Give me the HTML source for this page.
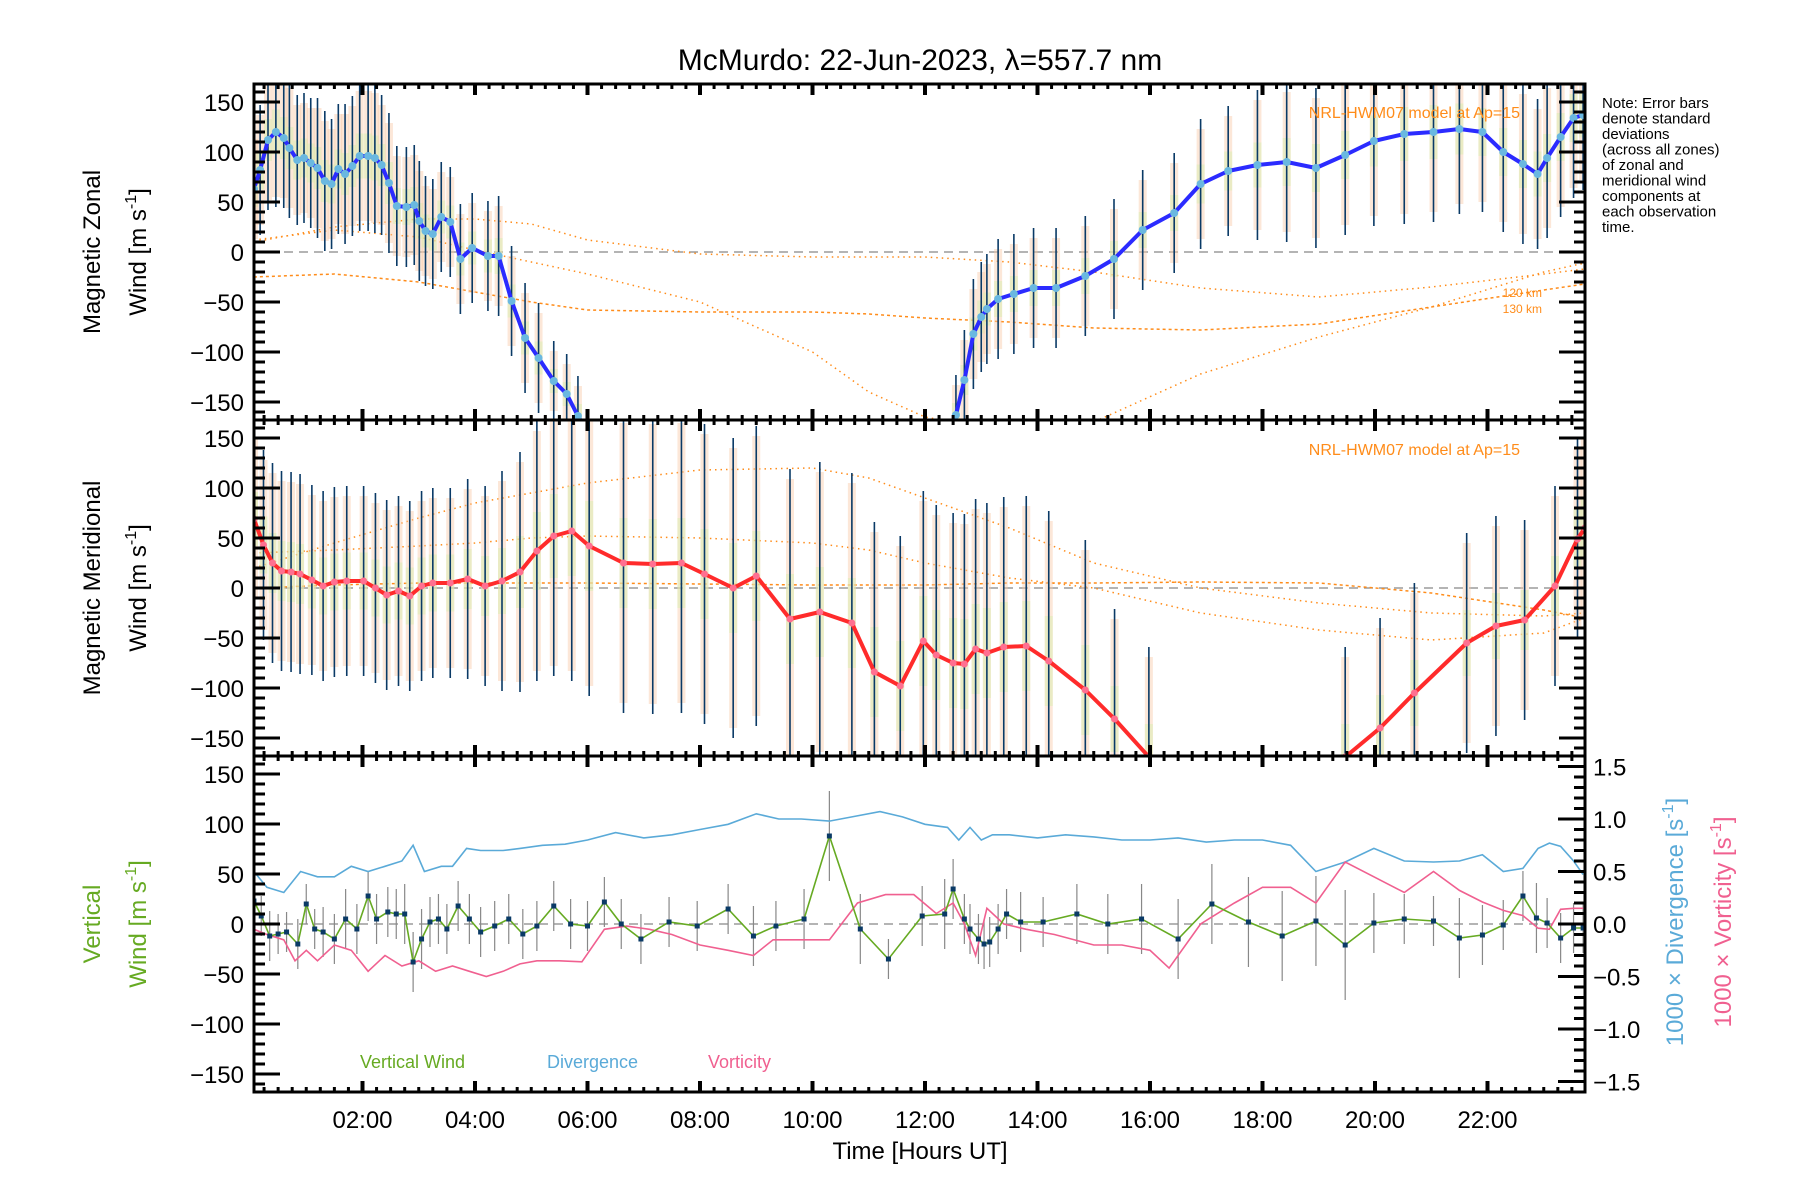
<!DOCTYPE html>
<html><head><meta charset="utf-8">
<style>
html,body{margin:0;padding:0;background:#fff;}
svg{display:block;font-family:"Liberation Sans",sans-serif;}
</style></head>
<body>
<svg id="chart" width="1800" height="1200" viewBox="0 0 1800 1200">
<text x="920" y="70" font-size="30" text-anchor="middle">McMurdo: 22-Jun-2023, λ=557.7 nm</text>
<g id="layer"></g>
<text x="1612" y="108" font-size="15"><tspan x="1602" dy="0">Note: Error bars</tspan><tspan x="1602" dy="15.5">denote standard</tspan><tspan x="1602" dy="15.5">deviations</tspan><tspan x="1602" dy="15.5">(across all zones)</tspan><tspan x="1602" dy="15.5">of zonal and</tspan><tspan x="1602" dy="15.5">meridional wind</tspan><tspan x="1602" dy="15.5">components at</tspan><tspan x="1602" dy="15.5">each observation</tspan><tspan x="1602" dy="15.5">time.</tspan></text>
<g transform="translate(100,252) rotate(-90)"><text font-size="24" text-anchor="middle">Magnetic Zonal</text><text y="46" font-size="24" text-anchor="middle">Wind [m s<tspan dy="-10" font-size="16">-1</tspan><tspan dy="10">]</tspan></text></g>
<g transform="translate(100,588) rotate(-90)"><text font-size="24" text-anchor="middle">Magnetic Meridional</text><text y="46" font-size="24" text-anchor="middle">Wind [m s<tspan dy="-10" font-size="16">-1</tspan><tspan dy="10">]</tspan></text></g>
<g transform="translate(100,924) rotate(-90)" fill="#66aa22"><text font-size="24" text-anchor="middle">Vertical</text><text y="46" font-size="24" text-anchor="middle">Wind [m s<tspan dy="-10" font-size="16">-1</tspan><tspan dy="10">]</tspan></text></g>
<g transform="translate(1683,922) rotate(-90)"><text font-size="24" text-anchor="middle" fill="#5aaad8">1000 × Divergence [s<tspan dy="-10" font-size="16">-1</tspan><tspan dy="10">]</tspan></text></g>
<g transform="translate(1731,922) rotate(-90)"><text font-size="24" text-anchor="middle" fill="#f06090">1000 × Vorticity [s<tspan dy="-10" font-size="16">-1</tspan><tspan dy="10">]</tspan></text></g>
<text x="920" y="1159" font-size="24" text-anchor="middle">Time [Hours UT]</text>
<text x="360" y="1068" font-size="18" fill="#66aa22">Vertical Wind</text>
<text x="547" y="1068" font-size="18" fill="#5aaad8">Divergence</text>
<text x="708" y="1068" font-size="18" fill="#f06090">Vorticity</text>
<text x="1520" y="118" font-size="16" fill="#ff8c1a" text-anchor="end">NRL-HWM07 model at Ap=15</text>
<text x="1520" y="455" font-size="16" fill="#ff8c1a" text-anchor="end">NRL-HWM07 model at Ap=15</text>
<text x="1542" y="297" font-size="12" fill="#ff8c1a" text-anchor="end">120 km</text>
<text x="1542" y="313" font-size="12" fill="#ff8c1a" text-anchor="end">130 km</text>
</svg>
<script>
// ---- data ----
const zonalHours=[0.07,0.18,0.32,0.46,0.6,0.7,0.84,0.96,1.08,1.2,1.33,1.45,1.57,1.69,1.82,1.95,2.1,2.22,2.34,2.47,2.61,2.78,2.92,3.01,3.12,3.25,3.4,3.56,3.74,3.95,4.23,4.42,4.65,4.89,5.13,5.4,5.63,5.83,6.2,12.3,12.55,12.7,12.86,13.0,13.1,13.3,13.58,13.93,14.33,14.85,15.36,15.87,16.43,16.9,17.39,17.91,18.43,18.95,19.47,19.98,20.52,21.04,21.5,21.91,22.28,22.63,22.89,23.06,23.3,23.53,23.7];
const zonalWind=[63,82,112,120,114,104,92,94,89,84,71,68,83,78,86,96,96,94,87,69,46,45,47,31,21,18,35,30,-7,4,-4,-4,-49,-86,-106,-129,-142,-164,-200,-200,-163,-128,-82,-65,-57,-47,-42,-36,-36,-24,-7,22,39,68,81,87,90,84,97,111,118,120,123,120,100,88,78,94,115,134,137];
const zonalErr=[60,65,70,75,70,70,65,65,65,70,70,65,65,70,70,75,75,75,70,70,60,60,60,60,55,55,55,55,55,55,55,60,55,55,55,40,40,40,0,0,40,50,55,55,55,60,60,60,60,60,60,60,60,65,65,75,80,80,80,85,90,90,85,80,80,80,75,80,80,80,75];
const merHours=[0.07,0.24,0.4,0.56,0.73,0.89,1.1,1.3,1.5,1.72,2.02,2.23,2.43,2.64,2.84,3.05,3.25,3.56,3.87,4.18,4.48,4.8,5.1,5.4,5.72,6.03,6.64,7.16,7.67,8.08,8.59,9.0,9.6,10.13,10.7,11.1,11.56,11.97,12.2,12.5,12.7,12.9,13.1,13.4,13.8,14.2,14.85,15.37,15.98,17.5,19.47,20.09,20.7,21.63,22.15,22.66,23.2,23.6,23.73];
const merWind=[69,43,25,17,16,14,8,2,6,7,7,0,-7,-3,-8,2,5,5,9,2,7,16,37,52,57,42,25,24,25,14,0,12,-31,-24,-35,-84,-98,-53,-67,-75,-76,-61,-65,-59,-58,-73,-102,-131,-169,-230,-169,-140,-105,-55,-38,-32,2,49,60];
const merErr=[90,95,100,100,100,100,95,95,95,95,95,95,95,95,95,95,95,95,100,100,110,120,130,140,150,150,150,150,150,150,150,150,150,150,150,150,150,150,150,150,150,150,150,150,150,150,150,110,110,0,110,110,110,110,110,100,100,100,100];
const vertHours=[0.07,0.2,0.35,0.5,0.65,0.85,1.0,1.15,1.3,1.5,1.7,1.9,2.1,2.25,2.45,2.6,2.75,2.9,3.05,3.2,3.35,3.5,3.7,3.9,4.1,4.35,4.6,4.85,5.1,5.4,5.7,6.0,6.3,6.6,6.95,7.45,7.95,8.5,8.95,9.35,9.85,10.3,10.85,11.35,11.95,12.35,12.5,12.7,12.8,12.95,13.05,13.15,13.3,13.45,13.7,14.1,14.7,15.25,15.85,16.5,17.1,17.75,18.35,18.95,19.47,19.98,20.52,21.04,21.5,21.91,22.28,22.63,22.87,23.06,23.3,23.53,23.7];
const vertWind=[23,8,-12,-10,-8,-20,20,-5,-8,-15,5,-5,28,5,12,10,10,-38,-15,2,5,-5,18,5,-8,-2,5,-10,-2,18,0,-2,22,0,-15,2,-2,15,-12,-2,5,88,-5,-35,8,10,35,5,-5,-15,-20,-18,-5,10,2,2,10,0,5,-15,20,2,-12,3,-21,1,5,3,-14,-11,-1,28,6,1,-14,-4,-4];
const vertErr=[25,20,25,20,20,25,20,20,25,25,30,25,25,25,25,25,30,30,30,25,25,25,25,25,25,25,25,25,25,25,25,25,25,25,25,25,25,25,30,25,30,45,35,20,30,35,30,25,25,25,25,25,25,25,30,25,30,30,35,40,40,45,45,45,55,30,25,25,40,30,25,25,35,25,25,25,25];
const divHours=[0.07,0.3,0.6,0.9,1.2,1.5,1.8,2.1,2.4,2.7,2.9,3.1,3.4,3.6,3.85,4.1,4.5,4.8,5.2,5.6,6.0,6.5,7.0,7.5,8.0,8.5,9.0,9.4,9.8,10.3,10.7,11.2,11.6,12.0,12.4,12.6,12.8,13.0,13.2,13.5,14.0,14.5,15.0,15.5,16.0,16.5,17.0,17.5,18.0,18.5,18.95,19.47,19.98,20.52,21.04,21.5,21.91,22.28,22.63,22.9,23.1,23.3,23.53,23.7];
const divValue=[0.5,0.35,0.3,0.5,0.45,0.45,0.55,0.5,0.55,0.6,0.75,0.5,0.55,0.55,0.72,0.7,0.7,0.72,0.75,0.76,0.8,0.87,0.82,0.85,0.9,0.95,1.05,1.0,1.0,0.98,1.02,1.07,1.02,0.95,0.92,0.8,0.92,0.8,0.85,0.85,0.82,0.85,0.83,0.8,0.8,0.82,0.78,0.8,0.8,0.75,0.5,0.59,0.72,0.6,0.59,0.6,0.66,0.5,0.53,0.72,0.77,0.74,0.6,0.47];
const vorHours=[0.07,0.3,0.6,0.8,1.0,1.2,1.5,1.8,2.1,2.4,2.7,3.0,3.3,3.6,3.9,4.2,4.5,4.8,5.1,5.5,5.9,6.3,6.7,7.1,7.5,8.0,8.5,8.95,9.3,9.8,10.3,10.8,11.3,11.8,12.2,12.5,12.7,12.9,13.1,13.4,13.8,14.3,15.0,15.5,16.0,16.34,16.9,17.5,18.0,18.5,18.95,19.47,19.98,20.52,21.04,21.5,21.91,22.28,22.63,22.9,23.1,23.3,23.53,23.7];
const vorValue=[-0.05,-0.1,-0.15,-0.35,-0.25,-0.35,-0.2,-0.25,-0.45,-0.3,-0.4,-0.35,-0.45,-0.4,-0.45,-0.5,-0.45,-0.38,-0.35,-0.35,-0.36,-0.05,-0.02,-0.05,-0.1,-0.2,-0.25,-0.3,-0.15,-0.15,-0.15,0.2,0.28,0.28,0.1,0.2,0.0,-0.3,0.15,0.0,-0.05,-0.1,-0.2,-0.2,-0.25,-0.42,0.0,0.2,0.35,0.35,0.2,0.59,0.45,0.3,0.5,0.32,0.21,0.13,0.08,-0.04,-0.05,0.14,0.15,0.15];
const modelHours=[0.07,1.5,3,4,5,6,8,10,11,12,13.5,15,16.9,19,21,23,23.73];
const zonalModelA=[10,25,33,33,28,12,-2,-5,-5,-5,-10,-20,-36,-45,-35,-22,-17];
const zonalModelB=[12,22,15,2,-10,-22,-50,-100,-140,-165,-180,-170,-122,-85,-55,-20,-11];
const zonalModelC=[-25,-22,-30,-40,-50,-58,-60,-60,-62,-66,-70,-76,-78,-72,-55,-38,-32];
const merModelA=[20,45,70,85,95,105,118,120,110,90,60,25,0,-15,-25,-28,-25];
const merModelB=[35,38,42,45,50,52,50,45,38,25,10,0,-25,-42,-52,-45,-30];
const merModelC=[0,3,5,5,5,5,4,3,3,3,5,5,6,5,-5,-22,-30];
const yTicks=[150,100,50,0,-50,-100,-150];
const rTicks=[1.5,1.0,0.5,0.0,-0.5,-1.0,-1.5];
const rTickLabels=["1.5","1.0","0.5","0.0","\u22120.5","\u22121.0","\u22121.5"];
const xTickHours=[2,4,6,8,10,12,14,16,18,20,22];
const xTickLabels=["02:00","04:00","06:00","08:00","10:00","12:00","14:00","16:00","18:00","20:00","22:00"];

// ---- layout ----
const NS="http://www.w3.org/2000/svg";
const L=254,R=1585,X0=250,PXH=56.25;
const tops=[84,420,756],PH=336;
const xs=h=>X0+h*PXH;
const yv=(p,v)=>tops[p]+PH/2-v;
const yr=v=>tops[2]+PH/2-v*105;
const layer=document.getElementById('layer');
function mk(tag,attrs,parent){const e=document.createElementNS(NS,tag);for(const k in attrs)e.setAttribute(k,attrs[k]);(parent||layer).appendChild(e);return e;}
const defs=mk('defs',{});
for(let p=0;p<3;p++){const c=mk('clipPath',{id:'clip'+p},defs);mk('rect',{x:L,y:tops[p],width:R-L,height:PH},c);}
function poly(p,hours,vals,fy,attrs,name){
  const pts=hours.map((h,i)=>xs(h).toFixed(1)+','+fy(vals[i]).toFixed(1)).join(' ');
  const e=mk('polyline',Object.assign({points:pts,fill:'none','clip-path':'url(#clip'+p+')'},attrs));
  
  
  return e;
}
function errBars(p,hours,vals,errs,barColor,name){
  const g=mk('g',{'clip-path':'url(#clip'+p+')'});
  
  
  hours.forEach((h,i)=>{
    if(!errs[i])return;
    const x=xs(h),y1=yv(p,vals[i]+errs[i]),y2=yv(p,vals[i]-errs[i]);
    if(p<2){
      const b=mk('rect',{x:x-4,y:y1+10,width:8,height:Math.max(0,y2-y1-20),fill:'#f9c9a8',opacity:0.45},g);
      
      
      const b2=mk('rect',{x:x-4,y:y1+(y2-y1)*0.35,width:8,height:(y2-y1)*0.3,fill:'#d8f0b0',opacity:0.5},g);
      
      
    }
    const l=mk('line',{x1:x,x2:x,y1:y1,y2:y2,stroke:barColor,'stroke-width':p<2?1.6:1.2},g);
    
    
  });
}
for(let p=0;p<3;p++){const z=mk('line',{x1:L,x2:R,y1:yv(p,0),y2:yv(p,0),stroke:'#888','stroke-width':1.3,'stroke-dasharray':'9,6'});}
poly(0,modelHours,zonalModelA,v=>yv(0,v),{stroke:'#ff8c1a','stroke-width':1.5,'stroke-dasharray':'1.5,4'},'zonal-model-a');
poly(0,modelHours,zonalModelB,v=>yv(0,v),{stroke:'#ff8c1a','stroke-width':1.5,'stroke-dasharray':'1.5,4'},'zonal-model-b');
poly(0,modelHours,zonalModelC,v=>yv(0,v),{stroke:'#ff8c1a','stroke-width':1.5,'stroke-dasharray':'3,3'},'zonal-model-c');
poly(1,modelHours,merModelA,v=>yv(1,v),{stroke:'#ff8c1a','stroke-width':1.5,'stroke-dasharray':'1.5,4'},'meridional-model-a');
poly(1,modelHours,merModelB,v=>yv(1,v),{stroke:'#ff8c1a','stroke-width':1.5,'stroke-dasharray':'1.5,4'},'meridional-model-b');
poly(1,modelHours,merModelC,v=>yv(1,v),{stroke:'#ff8c1a','stroke-width':1.5,'stroke-dasharray':'3,3'},'meridional-model-c');
errBars(0,zonalHours,zonalWind,zonalErr,'#0a3a66','zonal-error-bars');
errBars(1,merHours,merWind,merErr,'#0a3a66','meridional-error-bars');
errBars(2,vertHours,vertWind,vertErr,'#888','vertical-error-bars');
poly(0,zonalHours,zonalWind,v=>yv(0,v),{stroke:'#2b2bff','stroke-width':4,'stroke-linejoin':'round'},'zonal-wind-line');
poly(1,merHours,merWind,v=>yv(1,v),{stroke:'#ff2b2b','stroke-width':4,'stroke-linejoin':'round'},'meridional-wind-line');
poly(2,divHours,divValue,yr,{stroke:'#5aaad8','stroke-width':1.6},'divergence-line');
poly(2,vorHours,vorValue,yr,{stroke:'#f06090','stroke-width':1.6},'vorticity-line');
poly(2,vertHours,vertWind,v=>yv(2,v),{stroke:'#66aa22','stroke-width':1.6},'vertical-wind-line');
function dots(p,hours,vals,fy,fill,r,name,sq){
  const g=mk('g',{'clip-path':'url(#clip'+p+')'});
  
  
  hours.forEach((h,i)=>{const x=xs(h),y=fy(vals[i]);
    const d=sq?mk('rect',{x:x-2.5,y:y-2.5,width:5,height:5,fill:fill},g):mk('circle',{cx:x,cy:y,r:r,fill:fill},g);
    
    });
}
dots(0,zonalHours,zonalWind,v=>yv(0,v),'#6ab8e0',4,'zonal-points');
dots(1,merHours,merWind,v=>yv(1,v),'#ff7090',3.5,'meridional-points');
dots(2,vertHours,vertWind,v=>yv(2,v),'#0a3a66',0,'vertical-points',true);
for(let p=0;p<3;p++){
  const t=tops[p],b=t+PH;
  const g=mk('g',{});
  
  
  for(let v=-160;v<=160;v+=10){const y=yv(p,v);const len=(v%50===0)?26:11;
    mk('line',{x1:L,x2:L+len,y1:y,y2:y,stroke:'#000','stroke-width':3},g);
    if(p<2)mk('line',{x1:R-len,x2:R,y1:y,y2:y,stroke:'#000','stroke-width':3},g);}
  yTicks.forEach(v=>{const tx=mk('text',{x:L-10,y:yv(p,v)+9,'font-size':24,'text-anchor':'end'},g);tx.textContent=String(v).replace('-','\u2212');
    
    });
  for(let m=0;m<=24*4;m++){const h=m/4;const x=xs(h);if(x<L||x>R)continue;const major=m%8===0;const len=major?11:5;
    mk('line',{x1:x,x2:x,y1:t,y2:t+len,stroke:'#000','stroke-width':major?4:3},g);
    mk('line',{x1:x,x2:x,y1:b-len,y2:b,stroke:'#000','stroke-width':major?4:3},g);}
  mk('rect',{x:L,y:t,width:R-L,height:PH,fill:'none',stroke:'#000','stroke-width':3},g);
}
for(let v=-1.5;v<=1.51;v+=0.1){const y=yr(v);const major=Math.abs(Math.round(v*10))%5===0;
  mk('line',{x1:R-(major?27:11),x2:R,y1:y,y2:y,stroke:'#000','stroke-width':3});}
rTicks.forEach((v,i)=>{const tx=mk('text',{x:R+8,y:yr(v)+9,'font-size':24});tx.textContent=rTickLabels[i];
  
  });
xTickHours.forEach((h,i)=>{const tx=mk('text',{x:xs(h),y:1128,'font-size':24,'text-anchor':'middle'});tx.textContent=xTickLabels[i];
  
  });
</script>
</body></html>
